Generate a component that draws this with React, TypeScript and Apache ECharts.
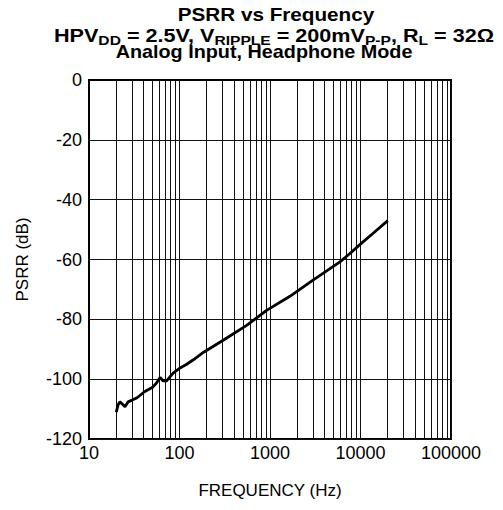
import React, { useEffect, useRef } from 'react';
import * as echarts from 'echarts';

const FONT = '"Liberation Sans", Arial, Helvetica, sans-serif';

const titleLine1 = 'PSRR vs Frequency';
const titleLine2 = 'HPV{s|DD} = 2.5V, V{s|RIPPLE} = 200mV{s|P-P}, R{s|L} = 32Ω';
const titleLine3 = 'Analog Input, Headphone Mode';
const xAxisName = 'FREQUENCY (Hz)';
const yAxisName = 'PSRR (dB)';

// Measured curve (frequency in Hz, PSRR in dB)
const freqHz = [20, 21, 22, 23.5, 25, 27, 30, 34, 41, 51, 56, 61, 66, 72, 85, 100, 120, 141, 185, 304, 552, 917, 1660, 2960, 5930, 7640, 10200, 13700, 20000];
const psrrDb = [-111, -108.5, -107.6, -108.4, -109.2, -107.6, -107, -106.2, -104.2, -102.6, -101.2, -99.4, -100.6, -100.6, -98, -96.4, -95, -93.6, -91, -87, -82, -77, -72.3, -67, -60.8, -58, -54.6, -51.3, -47];

// Minor (non-decade) vertical grid lines of the log axis
const minorFreqs = [
  20, 30, 40, 50, 60, 70, 80, 90,
  200, 300, 400, 500, 600, 700, 800, 900,
  2000, 3000, 4000, 5000, 6000, 7000, 8000, 9000,
  20000, 30000, 40000, 50000, 60000, 70000, 80000, 90000,
];

const yMin = -120;
const yMax = 0;
const yStep = 20;
const xMin = 10;
const xMax = 100000;

export default function App() {
  const ref = useRef<HTMLDivElement>(null);

  useEffect(() => {
    document.body.style.margin = '0';
    if (!ref.current) return;
    const chart = echarts.init(ref.current, null, { renderer: 'svg' });
    const titleBase = {
      fontWeight: 'bold',
      fontFamily: FONT,
      fill: '#000',
      align: 'center',
      verticalAlign: 'middle',
    };
    const option: any = {
      animation: false,
      textStyle: { fontFamily: FONT },
      grid: {
        left: 89,
        right: 52,
        top: 80,
        bottom: 71,
        show: true,
        borderColor: '#000',
        borderWidth: 2,
        backgroundColor: 'transparent',
      },
      xAxis: {
        type: 'log',
        logBase: 10,
        min: xMin,
        max: xMax,
        name: xAxisName,
        nameLocation: 'middle',
        nameGap: 43,
        nameTextStyle: { fontSize: 17, color: '#000', fontFamily: FONT },
        axisLine: { show: true, lineStyle: { color: '#000', width: 2 } },
        axisTick: { show: false },
        axisLabel: {
          fontSize: 18,
          color: '#000',
          margin: 5,
          fontFamily: FONT,
          formatter: (v: number) => String(Math.round(v)),
        },
        splitLine: { show: true, lineStyle: { color: '#111', width: 1 } },
      },
      yAxis: {
        type: 'value',
        min: yMin,
        max: yMax,
        interval: yStep,
        name: yAxisName,
        nameLocation: 'middle',
        nameGap: 58,
        nameTextStyle: { fontSize: 17, color: '#000', fontFamily: FONT },
        axisLine: { show: true, lineStyle: { color: '#000', width: 2 } },
        axisTick: { show: false },
        axisLabel: { fontSize: 18, color: '#000', margin: 7, fontFamily: FONT },
        splitLine: { show: true, lineStyle: { color: '#111', width: 1 } },
      },
      series: [
        {
          type: 'line',
          data: freqHz.map((f, i) => [f, psrrDb[i]]),
          symbol: 'none',
          showSymbol: false,
          lineStyle: { color: '#000', width: 2.8 },
          itemStyle: { color: '#000' },
          z: 5,
          markLine: {
            silent: true,
            symbol: 'none',
            label: { show: false },
            emphasis: { disabled: true },
            lineStyle: { color: '#111', width: 1, type: 'solid' },
            data: minorFreqs.map((f) => ({ xAxis: f })),
            z: 1,
          },
        },
      ],
      graphic: [
        {
          type: 'text',
          x: 276,
          y: 14.5,
          scaleX: 1.15,
          style: { ...titleBase, text: titleLine1, fontSize: 18 },
        },
        {
          type: 'text',
          x: 274,
          y: 36,
          scaleX: 1.2,
          style: {
            ...titleBase,
            text: titleLine2,
            fontSize: 18,
            rich: {
              s: { fontSize: 13, fontWeight: 'bold', fontFamily: FONT, fill: '#000', padding: [9, 0, 0, 0] },
            },
          },
        },
        {
          type: 'text',
          x: 264,
          y: 52,
          scaleX: 1.1,
          style: { ...titleBase, text: titleLine3, fontSize: 18 },
        },
      ],
    };
    chart.setOption(option);
    return () => chart.dispose();
  }, []);

  return <div ref={ref} style={{ width: 503, height: 510 }} />;
}
